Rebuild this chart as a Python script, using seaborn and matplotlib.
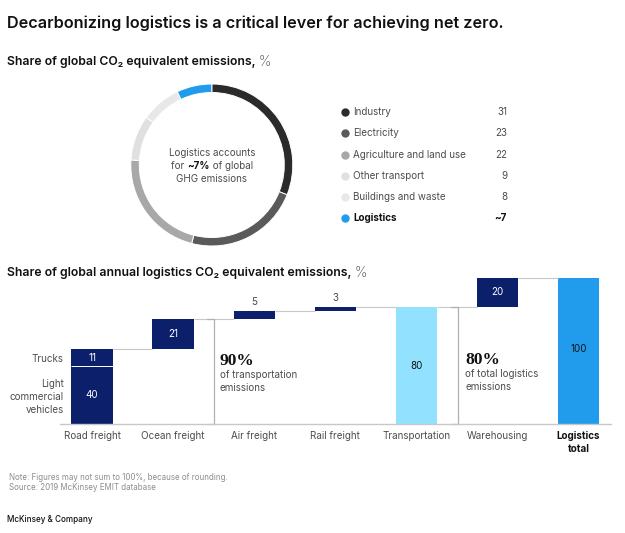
import matplotlib
matplotlib.use("Agg")
import matplotlib.pyplot as plt
import seaborn as sns
import pandas as pd

sns.set_theme(style="white")
plt.rcParams["font.family"] = ["Inter", "DejaVu Sans"]

W, H = 625, 533

# donut data
sectors = ["Industry", "Electricity", "Agriculture and land use", "Other transport", "Buildings and waste", "Logistics"]
shares = [31, 23, 22, 9, 8, 7]
share_labels = ["31", "23", "22", "9", "8", "~7"]
sector_colors = ["#2b2b2b", "#5a5a5a", "#a8a8a8", "#e0e0e0", "#e8e8e8", "#219ced"]

# waterfall data
steps = ["Road freight", "Ocean freight", "Air freight", "Rail freight", "Transportation", "Warehousing", "Logistics\ntotal"]
heights = [40, 21, 5, 3, 80, 20, 100]
bottoms = [0, 51, 72, 77, 0, 80, 0]
step_colors = ["#0b1f6b", "#0b1f6b", "#0b1f6b", "#0b1f6b", "#92e2ff", "#0b1f6b", "#219ced"]
truck_height = [11]
truck_bottom = [40]

DARK = "#111111"
BODY = "#4d4d4d"
LINE = "#c8c8c8"
BAR_WIDTH = 0.51
BODY_SIZE = 7.1

fig = plt.figure(figsize=(W / 100, H / 100), dpi=100, facecolor="white")


def px(x, y):
    # small lift so center_baseline text sits where the reference has it
    return x / W, 1 - (y - 0.8) / H


def put(x, y, s, size=BODY_SIZE, color=BODY, weight="normal", ha="left", va="center_baseline", **kw):
    fx, fy = px(x, y)
    return fig.text(fx, fy, s, fontsize=size, color=color, fontweight=weight, ha=ha, va=va, **kw)


def put_run(x, y, pieces, ha="left", size=BODY_SIZE):
    # text with mixed weights, laid out piece by piece
    renderer = fig.canvas.get_renderer()
    drawn = []
    total = 0
    for s, weight, color, piece_size in pieces:
        t = put(x, y, s, size=piece_size or size, color=color, weight=weight)
        wide = t.get_window_extent(renderer).width
        drawn.append((t, wide))
        total += wide
    start = x - total / 2 if ha == "center" else x
    for t, wide in drawn:
        t.set_position(px(start, y))
        start += wide


# titles
put(7, 23, "Decarbonizing logistics is a critical lever for achieving net zero.", size=11.67, color=DARK, weight="semibold")
put_run(7, 61, [("Share of global CO\u2082 equivalent emissions, ", "semibold", DARK, None), ("%", "light", BODY, 10)], size=8.8)
put_run(7, 272, [("Share of global annual logistics CO\u2082 equivalent emissions, ", "semibold", DARK, None), ("%", "light", BODY, 10)], size=8.8)

# donut
cx, cy, radius = 211.8, 165, 81
ax_d = fig.add_axes([(cx - radius) / W, 1 - (cy + radius) / H, 2 * radius / W, 2 * radius / H])
ax_d.pie(shares, colors=sector_colors, startangle=90, counterclock=False, radius=1,
         wedgeprops={"width": 0.105, "edgecolor": "white", "linewidth": 0.7})
ax_d.set_xlim(-1, 1)
ax_d.set_ylim(-1, 1)

put(212, 153, "Logistics accounts", ha="center")
put_run(212, 166, [("for ", "normal", BODY, None), ("~7%", "bold", DARK, None), (" of global", "normal", BODY, None)], ha="center")
put(212, 178.5, "GHG emissions", ha="center")

# legend
ax_page = fig.add_axes([0, 0, 1, 1], facecolor="none")
ax_page.set_xlim(0, W)
ax_page.set_ylim(H, 0)
ax_page.axis("off")
legend_y = [112, 133, 154.5, 176, 197, 218]
for name, lab, col, y in zip(sectors, share_labels, sector_colors, legend_y):
    is_log = name == "Logistics"
    ax_page.scatter([344.5], [y], s=36, color=col, linewidths=0)
    put(353, y, name, color=DARK if is_log else BODY, weight="bold" if is_log else "normal")
    put(507, y, lab, color=DARK if is_log else BODY, weight="bold" if is_log else "normal", ha="right")

# waterfall
base_y, top_y = 424.3, 277.5
left_x, right_x = 60, 611
ax = fig.add_axes([left_x / W, 1 - base_y / H, (right_x - left_x) / W, (base_y - top_y) / H], facecolor="none")
df = pd.DataFrame({"step": steps, "height": heights, "bottom": bottoms})
sns.barplot(data=df, x="step", y="height", order=steps, bottom=df["bottom"], width=BAR_WIDTH,
            errorbar=None, ax=ax, color=step_colors[0], linewidth=0, saturation=1)
for patch, col in zip(ax.patches, step_colors):
    patch.set_facecolor(col)
sns.barplot(x=steps[:1], y=truck_height, order=steps, bottom=truck_bottom, width=BAR_WIDTH,
            errorbar=None, ax=ax, color=step_colors[0], linewidth=0, saturation=1)
ax.set_xlim(-0.395, 6.4)
ax.set_ylim(0, 100)
ax.set_xlabel("")
ax.set_ylabel("")
ax.set_yticks([])
ax.set_xticks(range(len(steps)))
ax.set_xticklabels(steps, fontsize=BODY_SIZE, color=BODY, linespacing=1.45, va="top")
ax.get_xticklabels()[-1].set_fontweight("bold")
ax.get_xticklabels()[-1].set_color(DARK)
ax.tick_params(axis="x", length=0, pad=4.5)
sns.despine(ax=ax, left=True, top=True, right=True)
ax.spines["bottom"].set_color(LINE)
ax.spines["bottom"].set_linewidth(1)

# split between light commercial vehicles and trucks
half = BAR_WIDTH / 2
ax.plot([-half, half], [heights[0], heights[0]], color="white", lw=0.7, zorder=5, solid_capstyle="butt")

# connectors between steps
tops = [truck_bottom[0] + truck_height[0]] + [b + h for b, h in zip(bottoms[1:], heights[1:])]
for i in range(len(steps) - 1):
    ax.plot([i + half, i + 1 - half], [tops[i], tops[i]], color=LINE, lw=0.8, solid_capstyle="butt", clip_on=False)

# brackets
for x_br, top in [(1.5, tops[1]), (4.51, tops[4])]:
    ax.plot([x_br - 0.08, x_br, x_br, x_br - 0.08], [top, top, 0, 0], color="#b0b0b0", lw=0.9, clip_on=False)

# value labels
ax.annotate(str(truck_height[0]), (0, truck_bottom[0] + truck_height[0] / 2), xytext=(0, 0.5), textcoords="offset points",
            color="white", fontsize=BODY_SIZE, ha="center", va="center_baseline", zorder=6)
for i, (b, h) in enumerate(zip(bottoms, heights)):
    if h < 10:
        ax.annotate(str(h), (i, b + h), xytext=(0, 3), textcoords="offset points", ha="center", va="bottom", color=BODY, fontsize=BODY_SIZE)
    else:
        col = DARK if step_colors[i] != "#0b1f6b" else "white"
        lift = 2 if h == 100 else 0.5
        ax.annotate(str(h), (i, b + h / 2), xytext=(0, lift), textcoords="offset points",
                    color=col, fontsize=BODY_SIZE, ha="center", va="center_baseline", zorder=6)

# stack labels
put(64, 359, "Trucks", ha="right")
put(64, 384, "Light", ha="right")
put(64, 397, "commercial", ha="right")
put(64, 410, "vehicles", ha="right")

# callouts
put(220, 360, "90%", size=12.5, color=DARK, family="Liberation Serif", weight="bold")
put(220, 375, "of transportation")
put(220, 388, "emissions")
put(465, 359, "80%", size=12.5, color=DARK, family="Liberation Serif", weight="bold")
put(465, 374, "of total logistics")
put(465, 387, "emissions")

# footer
put(9, 477, "Note: Figures may not sum to 100%, because of rounding.", size=5.73, color="#8c8c8c")
put(9, 487, "Source: 2019 McKinsey EMIT database", size=5.73, color="#8c8c8c")
put(7, 519, "McKinsey & Company", size=5.85, color=DARK, weight="medium")

fig.savefig("out.png", dpi=100)
